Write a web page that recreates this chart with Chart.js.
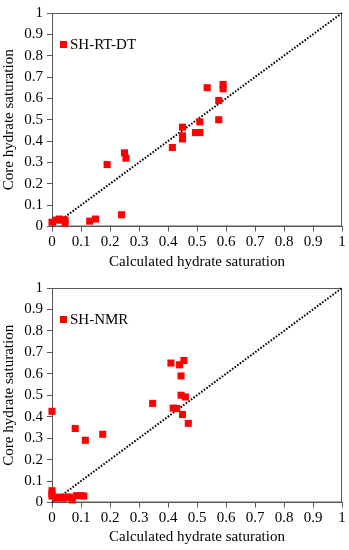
<!DOCTYPE html>
<html>
<head>
<meta charset="utf-8">
<script src="https://cdn.jsdelivr.net/npm/chart.js@4/dist/chart.umd.min.js"></script>
<style>
  html, body { margin: 0; padding: 0; background: #fff; }
  .box { position: absolute; left: 0; width: 349px; height: 275px; }
</style>
</head>
<body>
<div class="box" style="top:0"><canvas id="c1" width="349" height="275"></canvas></div>
<div class="box" style="top:275px"><canvas id="c2" width="349" height="275"></canvas></div>
<script>
// ---- data ----
const tickValues = [0, 0.1, 0.2, 0.3, 0.4, 0.5, 0.6, 0.7, 0.8, 0.9, 1];
const xTitle = 'Calculated hydrate saturation';
const yTitle = 'Core hydrate saturation';

const rtdtLabel = 'SH-RT-DT';
const rtdtCalc = [0.00, 0.015, 0.025, 0.035, 0.045, 0.045, 0.13, 0.15, 0.24, 0.19, 0.25, 0.255, 0.415, 0.45, 0.45, 0.45, 0.495, 0.51, 0.51, 0.535, 0.575, 0.575, 0.59, 0.59];
const rtdtCore = [0.02, 0.03, 0.035, 0.03, 0.03, 0.015, 0.025, 0.035, 0.055, 0.29, 0.345, 0.32, 0.37, 0.465, 0.425, 0.41, 0.44, 0.44, 0.49, 0.65, 0.50, 0.59, 0.665, 0.645];

const nmrLabel = 'SH-NMR';
const nmrCalc = [0.00, 0.00, 0.00, 0.015, 0.025, 0.04, 0.05, 0.06, 0.07, 0.085, 0.10, 0.11, 0.00, 0.08, 0.115, 0.175, 0.347, 0.41, 0.44, 0.455, 0.445, 0.445, 0.46, 0.418, 0.43, 0.45, 0.47];
const nmrCore = [0.055, 0.04, 0.03, 0.02, 0.025, 0.02, 0.025, 0.025, 0.012, 0.032, 0.032, 0.03, 0.425, 0.345, 0.29, 0.318, 0.462, 0.65, 0.642, 0.662, 0.59, 0.50, 0.492, 0.44, 0.438, 0.41, 0.369];

const lineEnds = [0, 1];

// ---- styling ----
const FONT = "'Liberation Serif', 'Times New Roman', serif";
const AXIS = '#595959';
const RED = 'rgb(255,0,0)';

const framePlugin = {
  id: 'frame',
  beforeDatasetsDraw(chart) {
    const a = chart.chartArea, ctx = chart.ctx;
    ctx.save();
    ctx.strokeStyle = AXIS;
    ctx.lineWidth = 1;
    ctx.strokeRect(a.left + 0.5, a.top + 0.5, a.right - a.left - 1, a.bottom - a.top - 1);
    ctx.restore();
  }
};

const innerLegend = {
  id: 'innerLegend',
  afterDraw(chart) {
    const ds = chart.data.datasets[1];
    const a = chart.chartArea, ctx = chart.ctx;
    ctx.save();
    ctx.fillStyle = ds.backgroundColor;
    const cx = a.left + 11.5, cy = a.top + 31.5;
    ctx.fillRect(cx - 3.5, cy - 3.5, 7, 7);
    ctx.fillStyle = '#000';
    ctx.font = "15px " + FONT;
    ctx.textBaseline = 'middle';
    ctx.textAlign = 'left';
    ctx.fillText(ds.label, a.left + 18, cy + 0.5);
    ctx.restore();
  }
};

function makeChart(id, label, xs, ys, topPad) {
  const pts = xs.map((x, i) => ({ x: x, y: ys[i] }));
  const diag = lineEnds.map(v => ({ x: v, y: v }));
  return new Chart(document.getElementById(id), {
    type: 'scatter',
    data: {
      datasets: [
        {
          type: 'line', label: 'diag', data: diag,
          borderColor: '#000', borderWidth: 2, borderDash: [1.6, 1.6],
          pointRadius: 0, fill: false, order: 2, clip: false
        },
        {
          label: label, data: pts, pointStyle: 'rect', pointRadius: 5,
          backgroundColor: RED, borderColor: RED, borderWidth: 0, order: 1, clip: false
        }
      ]
    },
    options: {
      responsive: false, animation: false,
      layout: { padding: { top: topPad, right: 7, left: 0, bottom: 0 } },
      plugins: { legend: { display: false }, tooltip: { enabled: false } },
      scales: {
        x: {
          type: 'linear', min: 0, max: 1,
          afterBuildTicks: s => { s.ticks = tickValues.map(v => ({ value: v })); },
          afterFit: s => { s.height = 275 - topPad - 216.5; },
          grid: { drawOnChartArea: false, drawTicks: true, tickLength: 5, color: AXIS },
          border: { color: AXIS, width: 1 },
          ticks: { color: '#000', font: { family: FONT, size: 15 }, padding: 2, maxRotation: 0,
                   callback: v => String(Math.round(v * 10) / 10) },
          title: { display: true, text: xTitle, color: '#000', font: { family: FONT, size: 15 }, padding: { top: 0, bottom: 4 } }
        },
        y: {
          type: 'linear', min: 0, max: 1,
          afterBuildTicks: s => { s.ticks = tickValues.map(v => ({ value: v })); },
          afterFit: s => { s.width = 52; },
          grid: { drawOnChartArea: false, drawTicks: true, tickLength: 5, color: AXIS },
          border: { color: AXIS, width: 1 },
          ticks: { color: '#000', font: { family: FONT, size: 15 }, padding: 4,
                   callback: v => String(Math.round(v * 10) / 10) },
          title: { display: true, text: yTitle, color: '#000', font: { family: FONT, size: 15 }, padding: { top: 0, bottom: 0 } }
        }
      }
    },
    plugins: [framePlugin, innerLegend]
  });
}

makeChart('c1', rtdtLabel, rtdtCalc, rtdtCore, 10);
makeChart('c2', nmrLabel, nmrCalc, nmrCore, 11);
</script>
</body>
</html>
